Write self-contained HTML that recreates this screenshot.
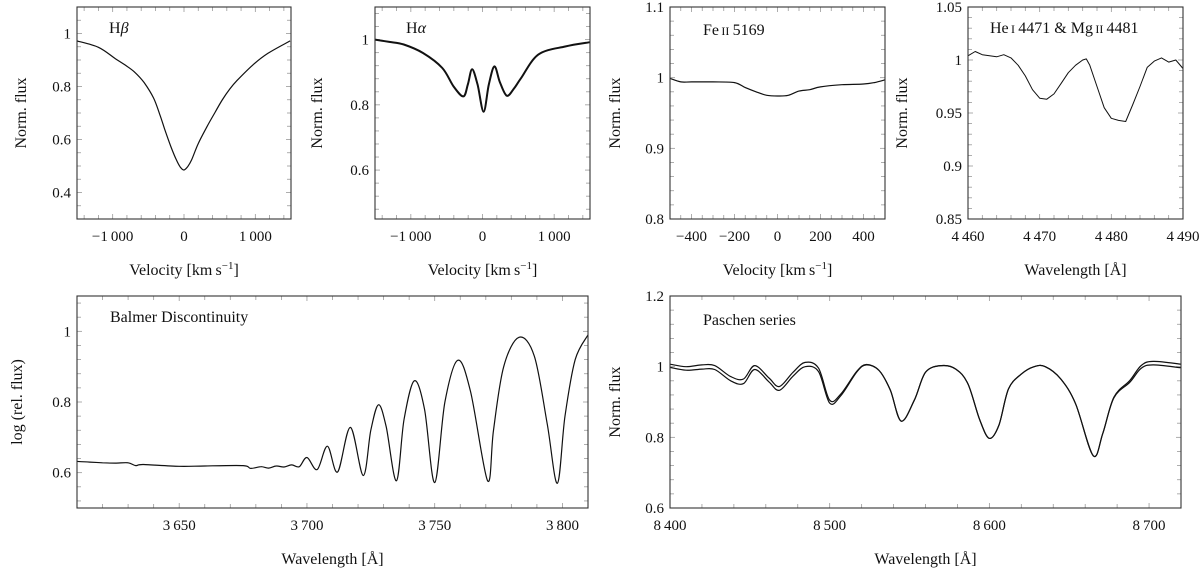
<!DOCTYPE html>
<html><head><meta charset="utf-8"><style>
html,body{margin:0;padding:0;background:#fff}
svg{display:block}
text{font-family:"Liberation Serif",serif;fill:#111}
</style></head><body>
<svg id="fig" width="1200" height="573" viewBox="0 0 1200 573" xmlns="http://www.w3.org/2000/svg"></svg>
<script>
// ---- data ----
const hbVel=[-1500,-1200,-962,-830,-695,-560,-428,-340,-267,-180,-107,-50,0,50,107,200,321,430,535,640,749,960,1175,1487];
const hbFlux=[0.972,0.948,0.905,0.882,0.855,0.815,0.757,0.695,0.635,0.57,0.523,0.495,0.485,0.497,0.523,0.585,0.648,0.70,0.749,0.79,0.824,0.88,0.925,0.972];
const haVel=[-1500,-1300,-1098,-830,-561,-402,-267,-205,-145,-69,15,88,166,242,338,440,538,779,1154,1500];
const haFlux=[1.0,0.993,0.985,0.959,0.913,0.856,0.826,0.862,0.909,0.862,0.779,0.862,0.918,0.87,0.828,0.85,0.882,0.954,0.979,0.992];
const feVel=[-500,-450,-400,-300,-200,-150,-100,-50,0,50,100,150,200,300,400,450,500];
const feFlux=[0.999,0.994,0.994,0.994,0.993,0.986,0.980,0.975,0.974,0.975,0.981,0.983,0.987,0.990,0.991,0.993,0.997];
const heWave=[4460,4461,4462,4463,4464,4465,4466,4467,4468,4469,4470,4471,4472,4473,4474,4475,4476,4476.5,4477,4478,4479,4480,4481,4482,4483,4484,4485,4486,4487,4488,4489,4490];
const heFlux=[1.004,1.008,1.005,1.004,1.003,1.005,1.002,0.995,0.985,0.972,0.964,0.963,0.968,0.978,0.988,0.995,1.0,1.001,0.995,0.975,0.955,0.945,0.943,0.942,0.958,0.975,0.993,0.999,1.002,0.998,1.0,0.992];
const bdWave=[3610,3615,3620,3625,3630,3633,3636,3650,3660,3675,3678,3682,3685,3688,3691,3694,3697,3700,3704,3708,3712,3717,3722,3725,3728,3731,3735,3738,3742,3746,3750,3754,3759,3764,3770.7,3773,3777,3783,3789,3794,3798,3801,3805,3810];
const bdFlux=[0.632,0.630,0.628,0.627,0.628,0.620,0.623,0.618,0.619,0.620,0.612,0.617,0.613,0.619,0.616,0.622,0.617,0.643,0.609,0.675,0.602,0.728,0.592,0.72,0.792,0.73,0.577,0.75,0.86,0.78,0.572,0.80,0.918,0.83,0.577,0.72,0.90,0.983,0.93,0.74,0.57,0.76,0.92,0.99];
const paWave=[8400,8410,8420,8428,8438,8446,8453,8462,8468.5,8477,8484.6,8493,8500,8507,8517,8523,8531,8538,8544.7,8553,8560,8570,8579,8586.6,8594,8600,8606,8612,8620,8628,8635,8644.7,8654,8665,8671,8678,8688,8695,8702.5,8720];
const paFluxA=[1.007,1.0,1.005,1.003,0.972,0.965,1.003,0.968,0.944,0.984,1.012,0.996,0.905,0.923,0.987,1.006,0.989,0.933,0.846,0.905,0.984,1.003,0.993,0.951,0.849,0.797,0.835,0.937,0.979,1.0,1.0,0.965,0.895,0.748,0.811,0.914,0.961,1.003,1.015,1.007];
const paFluxB=[0.998,0.99,0.993,0.992,0.960,0.952,0.992,0.957,0.933,0.973,1.0,0.986,0.897,0.918,0.985,1.005,0.989,0.933,0.846,0.905,0.984,1.003,0.993,0.951,0.849,0.797,0.835,0.937,0.979,1.0,1.0,0.965,0.895,0.748,0.811,0.912,0.956,0.995,1.005,0.997];

const NS='http://www.w3.org/2000/svg';
const fig=document.getElementById('fig');
function mk(tag,attrs,parent){const e=document.createElementNS(NS,tag);for(const k in attrs)e.setAttribute(k,attrs[k]);(parent||fig).appendChild(e);return e;}
function fmt(v){let s=(Math.round(v*1000)/1000).toString();let neg=s[0]==='-';if(neg)s=s.slice(1);let [i,d]=s.split('.');if(i.length>=4)i=i.slice(0,i.length-3)+'\u2009'+i.slice(-3);return (neg?'\u2212':'')+i+(d?'.'+d:'');}
function smooth(pts){let d='M'+pts[0][0].toFixed(1)+','+pts[0][1].toFixed(1);for(let i=0;i<pts.length-1;i++){const p0=pts[i-1]||pts[i],p1=pts[i],p2=pts[i+1],p3=pts[i+2]||p2;const c1=[p1[0]+(p2[0]-p0[0])/6,p1[1]+(p2[1]-p0[1])/6],c2=[p2[0]-(p3[0]-p1[0])/6,p2[1]-(p3[1]-p1[1])/6];d+='C'+c1[0].toFixed(1)+','+c1[1].toFixed(1)+' '+c2[0].toFixed(1)+','+c2[1].toFixed(1)+' '+p2[0].toFixed(1)+','+p2[1].toFixed(1);}return d;}

function panel(o){
  const g=mk('g',{});
  
  
  const sx=v=>o.x0+(v-o.xmin)/(o.xmax-o.xmin)*(o.x1-o.x0);
  const sy=v=>o.y1-(v-o.ymin)/(o.ymax-o.ymin)*(o.y1-o.y0);
  const tg=mk('g',{stroke:'#999','stroke-width':0.8},g);
  
  
  const eps=1e-6;
  for(let v=Math.ceil(o.xmin/o.xminor-eps)*o.xminor;v<=o.xmax+eps;v+=o.xminor){const x=sx(v);const maj=Math.abs(v/o.xmajor-Math.round(v/o.xmajor))<1e-6;const L=maj?5:4;mk('line',{x1:x,x2:x,y1:o.y1,y2:o.y1-L},tg);mk('line',{x1:x,x2:x,y1:o.y0,y2:o.y0+L},tg);}
  for(let v=Math.ceil((o.ymin-o.ybase)/o.yminor-eps)*o.yminor+o.ybase;v<=o.ymax+eps;v+=o.yminor){const y=sy(v);const maj=Math.abs((v-o.ybase)/o.ymajor-Math.round((v-o.ybase)/o.ymajor))<1e-6;const L=maj?5:4;mk('line',{x1:o.x0,x2:o.x0+L,y1:y,y2:y},tg);mk('line',{x1:o.x1,x2:o.x1-L,y1:y,y2:y},tg);}
  o.xlabels.forEach(v=>{const t=mk('text',{x:sx(v),y:o.y1+22,'text-anchor':'middle','font-size':15},g);t.textContent=fmt(v);});
  o.ylabels.forEach(v=>{const t=mk('text',{x:o.x0-6,y:sy(v)+5,'text-anchor':'end','font-size':15},g);t.textContent=fmt(v);});
  o.series.forEach(s=>{const pts=s.x.map((v,i)=>[sx(v),sy(s.y[i])]);const p=mk('path',{d:s.smooth?smooth(pts):'M'+pts.map(q=>q[0].toFixed(1)+','+q[1].toFixed(1)).join('L'),fill:'none',stroke:'#111','stroke-width':s.w||1.2,'stroke-linejoin':'round'},g);});
  const r=mk('rect',{x:o.x0,y:o.y0,width:o.x1-o.x0,height:o.y1-o.y0,fill:'none',stroke:'#333','stroke-width':1.1},g);
  
  const ti=mk('text',{x:o.tx,y:o.ty,'font-size':16},g);ti.innerHTML=o.title;
  const xl=mk('text',{x:(o.x0+o.x1)/2,y:o.y1+56,'text-anchor':'middle','font-size':16},g);xl.innerHTML=o.xtitle;
  const yc=(o.y0+o.y1)/2;const yl=mk('text',{x:o.ylx,y:yc,'text-anchor':'middle','font-size':16,transform:`rotate(-90 ${o.ylx} ${yc})`},g);yl.textContent=o.ytitle;
}
const vel='Velocity [km\u2009s<tspan dy="-6" font-size="11">\u22121</tspan><tspan dy="6">]</tspan>';
const wav='Wavelength [Å]';
panel({name:'hbeta-panel',x0:77,x1:291,y0:7,y1:219,xmin:-1500,xmax:1500,ymin:0.3,ymax:1.1,xminor:200,xmajor:1000,ybase:0,yminor:0.05,ymajor:0.2,xlabels:[-1000,0,1000],ylabels:[0.4,0.6,0.8,1],title:'H<tspan font-style="italic">β</tspan>',tx:109,ty:33,xtitle:vel,ytitle:'Norm. flux',ylx:26,series:[{x:hbVel,y:hbFlux,smooth:true,name:'hbeta-line'}]});
panel({name:'halpha-panel',x0:375,x1:590,y0:7,y1:219,xmin:-1500,xmax:1500,ymin:0.45,ymax:1.1,xminor:200,xmajor:1000,ybase:0,yminor:0.04,ymajor:0.2,xlabels:[-1000,0,1000],ylabels:[0.6,0.8,1],title:'H<tspan font-style="italic">α</tspan>',tx:406,ty:33,xtitle:vel,ytitle:'Norm. flux',ylx:322,series:[{x:haVel,y:haFlux,smooth:true,w:2,name:'halpha-line'}]});
panel({name:'feii-panel',x0:670,x1:885,y0:7,y1:219,xmin:-500,xmax:500,ymin:0.8,ymax:1.1,xminor:50,xmajor:200,ybase:0,yminor:0.02,ymajor:0.1,xlabels:[-400,-200,0,200,400],ylabels:[0.8,0.9,1,1.1],title:'Fe<tspan font-size="12">\u2009II</tspan>\u20095169',tx:703,ty:35,xtitle:vel,ytitle:'Norm. flux',ylx:620,series:[{x:feVel,y:feFlux,smooth:true,name:'feii-line'}]});
panel({name:'hei-mgii-panel',x0:968,x1:1183,y0:7,y1:219,xmin:4460,xmax:4490,ymin:0.85,ymax:1.05,xminor:2,xmajor:10,ybase:0,yminor:0.01,ymajor:0.05,xlabels:[4460,4470,4480,4490],ylabels:[0.85,0.9,0.95,1,1.05],title:'He<tspan font-size="12">\u2009I</tspan>\u20094471 &amp; Mg<tspan font-size="12">\u2009II</tspan>\u20094481',tx:990,ty:33,xtitle:wav,ytitle:'Norm. flux',ylx:907,series:[{x:heWave,y:heFlux,smooth:false,w:1,name:'hei-mgii-line'}]});
panel({name:'balmer-panel',x0:77,x1:588,y0:296,y1:508,xmin:3610,xmax:3810,ymin:0.5,ymax:1.1,xminor:10,xmajor:50,ybase:0,yminor:0.04,ymajor:0.2,xlabels:[3650,3700,3750,3800],ylabels:[0.6,0.8,1],title:'Balmer Discontinuity',tx:110,ty:322,xtitle:wav,ytitle:'log (rel. flux)',ylx:22,series:[{x:bdWave,y:bdFlux,smooth:true,name:'balmer-line'}]});
panel({name:'paschen-panel',x0:670,x1:1181,y0:296,y1:508,xmin:8400,xmax:8720,ymin:0.6,ymax:1.2,xminor:20,xmajor:100,ybase:0,yminor:0.04,ymajor:0.2,xlabels:[8400,8500,8600,8700],ylabels:[0.6,0.8,1,1.2],title:'Paschen series',tx:703,ty:325,xtitle:wav,ytitle:'Norm. flux',ylx:620,series:[{x:paWave,y:paFluxA,smooth:true,name:'paschen-line-a'},{x:paWave,y:paFluxB,smooth:true,name:'paschen-line-b'}]});
</script>
</body></html>
